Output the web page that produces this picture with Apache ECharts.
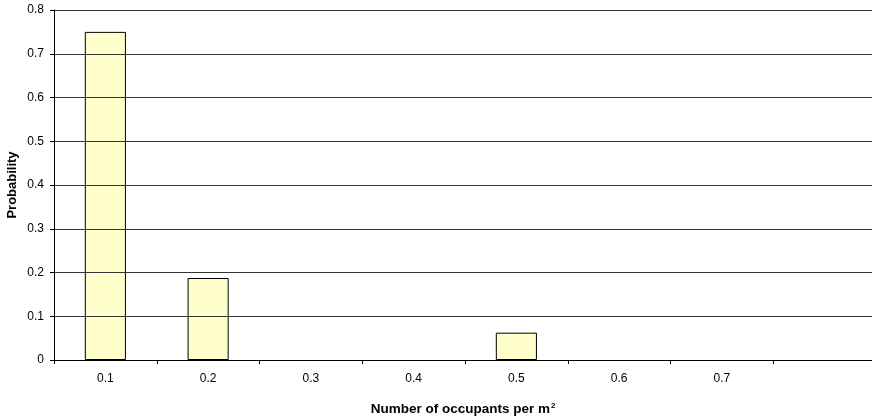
<!DOCTYPE html>
<html>
<head>
<meta charset="utf-8">
<script src="https://cdn.jsdelivr.net/npm/echarts@6/dist/echarts.min.js"></script>
<style>
html,body{margin:0;padding:0;background:#fff;}
#chart{width:872px;height:417px;}
</style>
</head>
<body>
<div id="chart"></div>
<script>
var categories = ['0.1','0.2','0.3','0.4','0.5','0.6','0.7'];
var probability = [0.75, 0.1875, 0, 0, 0.0625, 0, 0];
var yMax = 0.8;
var yStep = 0.1;

var chart = echarts.init(document.getElementById('chart'));
var font = 'Liberation Sans, Arial, sans-serif';
var option = {
  animation: false,
  backgroundColor: '#fff',
  grid: [
    {left: 54, right: 0, top: 10, bottom: 57, outerBoundsMode: 'none'},
    // bars only cover the 7 categories, the frame runs on to the right edge
    {left: 54, width: 719.25, top: 10, bottom: 57, outerBoundsMode: 'none'}
  ],
  xAxis: [{
    gridIndex: 0,
    type: 'value',
    min: 0, max: 1,
    name: 'Number of occupants per m{sup|2}',
    nameLocation: 'middle',
    nameGap: 42,
    nameMoveOverlap: false,
    nameTextStyle: {
      fontFamily: font, fontSize: 13.5, fontWeight: 'bold', color: '#000',
      rich: {sup: {fontFamily: font, fontSize: 8, fontWeight: 'bold', color: '#000', padding: [0, 0, 7, 1]}}
    },
    axisLine: {show: true, onZero: false, lineStyle: {color: '#000', width: 1}},
    axisTick: {show: false},
    axisLabel: {show: false},
    splitLine: {show: false},
    z: 5
  }, {
    gridIndex: 1,
    type: 'category',
    data: categories,
    axisLine: {show: false},
    axisTick: {show: true, inside: false, length: 4, lineStyle: {color: '#000'}},
    axisLabel: {margin: 13, fontFamily: font, fontSize: 12, color: '#000'},
    splitLine: {show: false}
  }],
  yAxis: [{
    gridIndex: 0,
    type: 'value',
    min: 0, max: yMax, interval: yStep,
    name: 'Probability',
    nameLocation: 'middle',
    nameGap: 35,
    nameMoveOverlap: false,
    nameTextStyle: {fontFamily: font, fontSize: 13, fontWeight: 'bold', color: '#000'},
    axisLine: {show: true, lineStyle: {color: '#000', width: 1}},
    axisTick: {show: true, inside: false, length: 4, lineStyle: {color: '#000'}},
    axisLabel: {margin: 10, fontFamily: font, fontSize: 12, color: '#000'},
    splitLine: {show: true, lineStyle: {color: '#333', width: 1}},
    z: 5
  }, {
    gridIndex: 1,
    type: 'value',
    min: 0, max: yMax,
    show: false
  }],
  series: [{
    type: 'bar',
    xAxisIndex: 1,
    yAxisIndex: 1,
    // empty classes draw nothing, as in the original
    data: probability.map(function (v) { return v === 0 ? '-' : v; }),
    barWidth: '40%',
    itemStyle: {color: '#FFFFCC', borderColor: '#000', borderWidth: 1}
  }]
};
chart.setOption(option);
</script>
</body>
</html>
